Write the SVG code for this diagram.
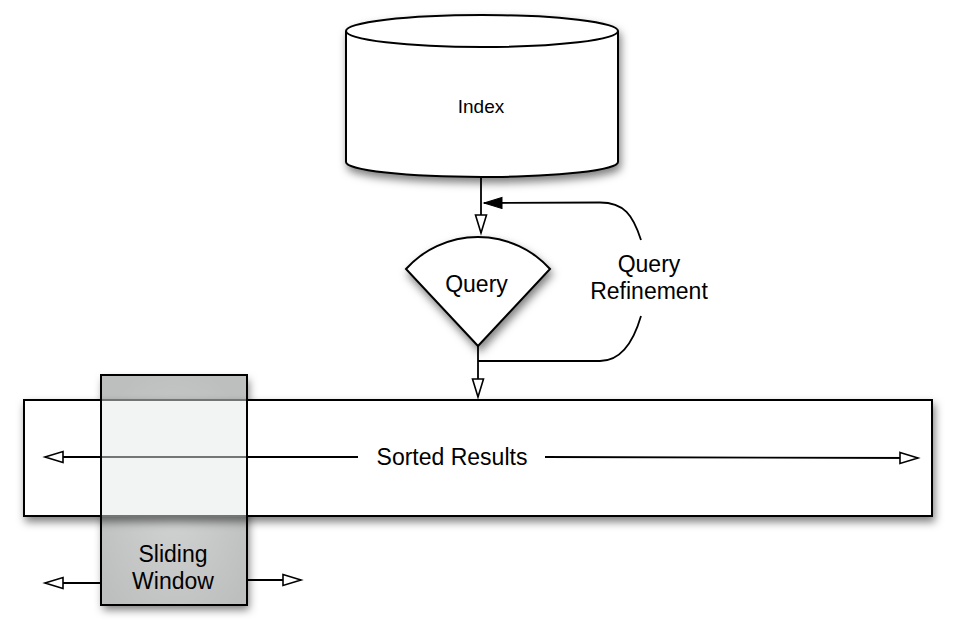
<svg xmlns="http://www.w3.org/2000/svg" width="954" height="636" viewBox="0 0 954 636">
  <defs>
    <filter id="shadow" x="-20%" y="-20%" width="140%" height="150%">
      <feDropShadow dx="2" dy="5" stdDeviation="4" flood-color="#000" flood-opacity="0.5"/>
    </filter>
    <radialGradient id="winfill" cx="0.5" cy="0.55" r="0.6">
      <stop offset="0" stop-color="#d2d3d3"/>
      <stop offset="1" stop-color="#bdbebe"/>
    </radialGradient>
    <marker id="open" markerUnits="userSpaceOnUse" markerWidth="22" markerHeight="14" refX="18" refY="6" orient="auto" overflow="visible">
      <path d="M0,0.5 L18,6 L0,11.5 Z" fill="#fff" stroke="#000" stroke-width="1.6"/>
    </marker>
    <marker id="filled" markerUnits="userSpaceOnUse" markerWidth="22" markerHeight="14" refX="18" refY="6" orient="auto" overflow="visible">
      <path d="M0,0.5 L18,6 L0,11.5 Z" fill="#000" stroke="#000" stroke-width="1"/>
    </marker>
    <style>
      .shape { stroke: #000; stroke-width: 2; }
      .line { fill: none; stroke: #000; stroke-width: 1.8; }
      .lbl { font-family: "Liberation Sans", Arial, sans-serif; fill: #000; text-anchor: middle; }
    </style>
  </defs>

  <g id="sliding-window-body">
    <rect x="101" y="375" width="146" height="230" fill="url(#winfill)" filter="url(#shadow)"/>
  </g>

  <g id="sorted-results">
    <rect class="shape" x="24" y="400" width="908" height="116" fill="#fff" filter="url(#shadow)"/>
    <text class="lbl" x="452" y="465" font-size="23">Sorted Results</text>
  </g>

  <g id="index">
    <path class="shape" d="M346,31 A136,16 0 0 1 618,31 L618,162 A136,15 0 0 1 346,162 Z" fill="#fff" filter="url(#shadow)"/>
    <path class="shape" d="M346,31 A136,16 0 0 0 618,31" fill="none"/>
    <text class="lbl" x="481" y="113" font-size="19">Index</text>
  </g>

  <g id="query">
    <path class="shape" d="M478,346 L406,269 A97,97 0 0 1 550,269 Z" fill="#fff" filter="url(#shadow)"/>
    <text class="lbl" x="476.5" y="292" font-size="23">Query</text>
  </g>

  <g id="connectors">
    <path class="line" d="M481,177 L481,233" marker-end="url(#open)"/>
    <path class="line" d="M478,346 L478,397" marker-end="url(#open)"/>
    <path class="line" d="M478,361 L600,361 C622,361 634,340 641,316"/>
    <path class="line" d="M641,240 C633,215 624,202.5 600,202.5 L484,203" marker-end="url(#filled)"/>
    <path class="line" d="M358,457 L45,457" marker-end="url(#open)"/>
    <path class="line" d="M545,457 L918,458" marker-end="url(#open)"/>
    <path class="line" d="M101,583 L45,583" marker-end="url(#open)"/>
    <path class="line" d="M247,580 L301,580" marker-end="url(#open)"/>
  </g>

  <g id="sliding-window">
    <rect x="101" y="399" width="146" height="118" fill="#e6e9e9" opacity="0.5"/>
    <rect x="101" y="375" width="146" height="230" fill="none" stroke="#000" stroke-width="2"/>
    <text class="lbl" x="173" y="562" font-size="23" fill="#111">Sliding</text>
    <text class="lbl" x="173" y="589" font-size="23" fill="#111">Window</text>
  </g>

  <g id="query-refinement-label">
    <text class="lbl" x="649" y="272" font-size="23">Query</text>
    <text class="lbl" x="649" y="299" font-size="23">Refinement</text>
  </g>
</svg>
